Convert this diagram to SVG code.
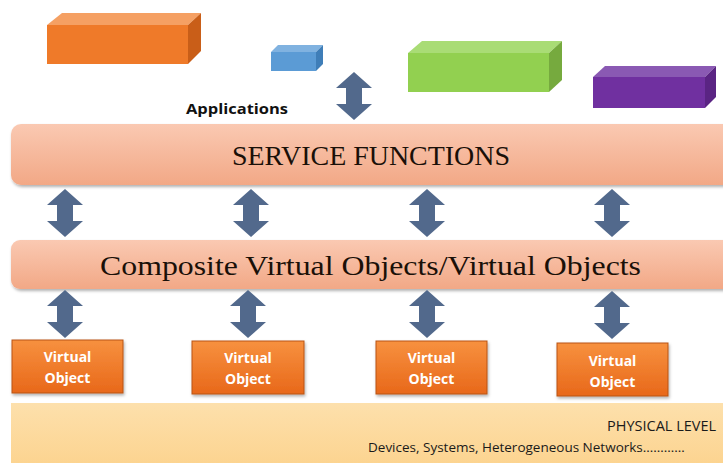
<svg xmlns="http://www.w3.org/2000/svg" width="723" height="463" viewBox="0 0 723 463">
<defs>
<style>
.band{stroke:none}
.bandtxt{font-family:"Liberation Serif",serif;fill:#1a1008}
.votxt{font-family:"Open Sans","Liberation Sans",sans-serif;font-weight:bold;font-size:14px;fill:#ffffff;text-anchor:middle}
.phys{font-family:"Open Sans","Liberation Sans",sans-serif;fill:#1a1a1a}
.arr{fill:#52698c}
</style>
<linearGradient id="gBand" x1="0" y1="0" x2="0" y2="1">
<stop offset="0" stop-color="#fac9b2"/>
<stop offset="1" stop-color="#f2a886"/>
</linearGradient>
<linearGradient id="gPhys" x1="0" y1="0" x2="0" y2="1">
<stop offset="0" stop-color="#fde0ac"/>
<stop offset="1" stop-color="#fcd28c"/>
</linearGradient>
<linearGradient id="gVO" x1="0" y1="0" x2="0" y2="1">
<stop offset="0" stop-color="#f7913f"/>
<stop offset="1" stop-color="#e8681a"/>
</linearGradient>
<filter id="sh" x="-5%" y="-10%" width="110%" height="130%">
<feDropShadow dx="1" dy="2" stdDeviation="1.5" flood-color="#000" flood-opacity="0.3"/>
</filter>
<path id="dbl" class="arr" d="M0,0 L18,16 L8,16 L8,32 L18,32 L0,48 L-18,32 L-8,32 L-8,16 L-18,16 Z"/>
</defs>

<g id="app-orange">
<polygon points="47,25 62,13 201,13 188,25" fill="#f5a063"/>
<polygon points="188,25 201,13 201,51 188,64" fill="#c95e18"/>
<rect x="47" y="25" width="141" height="39" fill="#ef7a29"/>
</g>
<g id="app-blue">
<polygon points="271,52 278,45 323,45 316,52" fill="#80b2e0"/>
<polygon points="316,52 323,45 323,64 316,71" fill="#3f7eb8"/>
<rect x="271" y="52" width="45" height="19" fill="#5b9bd5"/>
</g>
<g id="app-green">
<polygon points="408,53 422,41 562,41 549,53" fill="#a9dc75"/>
<polygon points="549,53 562,41 562,80 549,92" fill="#76aa3e"/>
<rect x="408" y="53" width="141" height="39" fill="#92d050"/>
</g>
<g id="app-purple">
<polygon points="593,77 605,66 716,66 705,77" fill="#8a59b3"/>
<polygon points="705,77 716,66 716,97 705,108" fill="#5a2483"/>
<rect x="593" y="77" width="112" height="31" fill="#7030a0"/>
</g>
<g id="applications-label">
<text x="186" y="114" font-family="'Open Sans','Liberation Sans',sans-serif" font-weight="bold" font-size="15" fill="#111" textLength="102" lengthAdjust="spacingAndGlyphs">Applications</text>
</g>

<g id="service-functions">
<rect class="band" x="11" y="124" width="730" height="61" rx="10" fill="url(#gBand)" filter="url(#sh)"/>
<text class="bandtxt" x="232" y="165" font-size="28" textLength="278" lengthAdjust="spacingAndGlyphs">SERVICE FUNCTIONS</text>
</g>

<g id="composite-virtual-objects">
<rect class="band" x="11" y="240" width="730" height="49" rx="9" fill="url(#gBand)" filter="url(#sh)"/>
<text class="bandtxt" x="100" y="275" font-size="28" textLength="541" lengthAdjust="spacingAndGlyphs">Composite Virtual Objects/Virtual Objects</text>
</g>

<g id="vo1">
<rect x="12" y="340" width="111" height="53" fill="url(#gVO)" stroke="#b95514" stroke-width="1" filter="url(#sh)"/>
<text class="votxt" x="67.5" y="362">Virtual</text>
<text class="votxt" x="67.5" y="383">Object</text>
</g>
<g id="vo2">
<rect x="192" y="341" width="112" height="53" fill="url(#gVO)" stroke="#b95514" stroke-width="1" filter="url(#sh)"/>
<text class="votxt" x="248" y="363">Virtual</text>
<text class="votxt" x="248" y="384">Object</text>
</g>
<g id="vo3">
<rect x="376" y="341" width="111" height="53" fill="url(#gVO)" stroke="#b95514" stroke-width="1" filter="url(#sh)"/>
<text class="votxt" x="431.5" y="363">Virtual</text>
<text class="votxt" x="431.5" y="384">Object</text>
</g>
<g id="vo4">
<rect x="557" y="343" width="111" height="53" fill="url(#gVO)" stroke="#b95514" stroke-width="1" filter="url(#sh)"/>
<text class="votxt" x="612.5" y="366">Virtual</text>
<text class="votxt" x="612.5" y="387">Object</text>
</g>

<g id="physical-level">
<rect x="11" y="403" width="730" height="70" fill="url(#gPhys)"/>
<text class="phys" x="607" y="431" font-size="14.5">PHYSICAL LEVEL</text>
<text class="phys" x="368" y="452" font-size="13.5">Devices, Systems, Heterogeneous Networks…………</text>
</g>

<g id="connectors">
<use href="#dbl" transform="translate(354,72)"/>
<use href="#dbl" transform="translate(65,189)"/>
<use href="#dbl" transform="translate(251,189)"/>
<use href="#dbl" transform="translate(427,189)"/>
<use href="#dbl" transform="translate(612,189)"/>
<use href="#dbl" transform="translate(65,290)"/>
<use href="#dbl" transform="translate(248,290)"/>
<use href="#dbl" transform="translate(427,290)"/>
<use href="#dbl" transform="translate(612,291)"/>
</g>
</svg>
